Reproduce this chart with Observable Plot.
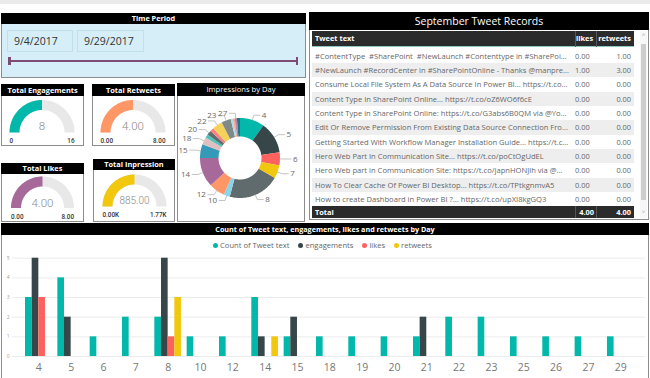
<!DOCTYPE html>
<html><head><meta charset="utf-8">
<script src="https://cdn.jsdelivr.net/npm/d3@7"></script>
<script src="https://cdn.jsdelivr.net/npm/@observablehq/plot@0.6"></script>
<style>
html,body{margin:0;padding:0;}
body{width:650px;height:378px;position:relative;overflow:hidden;background:#fff;font-family:"Open Sans",sans-serif;}
</style></head><body>
<script>
// ---------------- DATA ----------------
const periodStart = "9/4/2017";
const periodEnd = "9/29/2017";

const tweetTexts = [
  "#ContentType  #SharePoint  #NewLaunch #Contenttype in #SharePoi...",
  "#NewLaunch #RecordCenter in #SharePointOnline - Thanks @manpre...",
  "Consume Local File System As A Data Source In Power BI... https://t.co...",
  "Content Type In SharePoint Online... https://t.co/oZ6WO6f6cE",
  "Content Type in SharePoint Online: https://t.co/G3abs6B0QM via @Yo...",
  "Edit Or Remove Permission From Existing Data Source Connection Fro...",
  "Getting Started With Workflow Manager Installation Guide... https://t.c...",
  "Hero Web Part In Communication Site... https://t.co/poCtOgUdEL",
  "Hero Web part in Communication Site: https://t.co/japnHONJlh via @...",
  "How To Clear Cache Of Power BI Desktop... https://t.co/TPtkgnmvA5",
  "How to create Dashboard in Power BI ?... https://t.co/upXI8kgGQ3"
];
const tweetLikes = [0,1,0,0,0,0,0,0,0,0,0];
const tweetRetweets = [1,3,0,0,0,0,0,0,0,0,0];
const tableColumns = ["Tweet text","likes","retweets"];
const totalLabel = "Total";
const totalLikes = 4;
const totalRetweets = 4;

const gaugeTitles = ["Total Engagements","Total Retweets","Total Likes","Total Inpression"];
const gaugeValues = [8, 4, 4, 885];
const gaugeMax = [16, 8, 8, 1770];
const gaugeValueLabels = ["8","4.00","4.00","885.00"];
const gaugeMinLabels = ["0","0.00","0.00","0.00K"];
const gaugeMaxLabels = ["16","8.00","8.00","1.77K"];
const gaugeColors = ["#01B8AA","#FE9666","#A66999","#F2C80F"];

const days = ["4","5","6","7","8","10","12","14","15","18","19","20","21","22","23","25","26","27","29"];
const impressions = [88,113,47,47,184,22,57,106,49,27,12,16,14,36,34,7,7,8,11];
const impressionLabelDays = ["4","5","6","7","8","10","12","14","15","18","20","22","23","27"];
const dayPalette = ["#01B8AA","#374649","#FD625E","#F2C80F","#5F6B6D","#8AD4EB","#FE9666","#A66999","#3599B8","#DFBFBF","#4AC5BB","#5F6B6D","#FB8281","#F4D25A","#7F898A","#A4DDEE","#FDAB89","#B687AC","#28738A"];

const seriesNames = ["Count of Tweet text","engagements","likes","retweets"];
const seriesColors = ["#01B8AA","#374649","#FD625E","#F2C80F"];
const tweetCount  = [3,4,1,2,2,1,1,3,1,1,1,1,1,2,2,1,1,1,1];
const engagements = [5,2,0,0,5,0,0,1,2,0,0,0,2,0,0,0,0,0,0];
const likes       = [3,0,0,0,1,0,0,0,0,0,0,0,0,0,0,0,0,0,0];
const retweets    = [0,0,0,0,3,0,0,1,0,0,0,0,0,0,0,0,0,0,0];
const yTicks = [0,1,2,3,4,5];
const barTitle = "Count of Tweet text, engagements, likes and retweets by Day";
const donutTitle = "Impressions by Day";
const periodTitle = "Time Period";
const tableTitle = "September Tweet Records";

// ---------------- HELPERS ----------------
function box(left, top, width, height, css = {}, text) {
  const d = document.createElement("div");
  Object.assign(d.style, {position:"absolute", left:left+"px", top:top+"px", width:width+"px", height:height+"px", boxSizing:"border-box"}, css);
  if (text != null) d.textContent = text;
  document.body.appendChild(d);
  return d;
}
function header(left, top, width, height, text, fs, weight) {
  return box(left, top, width, height, {background:"#000", color:"#fff", fontSize:fs+"px", fontWeight:weight, textAlign:"center", lineHeight:height+"px", whiteSpace:"nowrap", overflow:"hidden"}, text);
}
function place(node, left, top) {
  node.style.position = "absolute";
  node.style.left = left + "px";
  node.style.top = top + "px";
  document.body.appendChild(node);
}
function arcPts(a0, a1, r0, r1, n) {
  const pts = [];
  for (let i = 0; i <= n; i++) { const a = a0 + (a1 - a0) * i / n; pts.push([r1 * Math.sin(a), r1 * Math.cos(a)]); }
  for (let i = n; i >= 0; i--) { const a = a0 + (a1 - a0) * i / n; pts.push([r0 * Math.sin(a), r0 * Math.cos(a)]); }
  return pts;
}
const baseStyle = {background:"transparent", overflow:"visible", fontFamily:"'Open Sans', sans-serif"};

// top strip
box(0,0,650,4,{background:"#ebebeb"});

// ---------------- TIME PERIOD ----------------
box(1,13,305,65,{border:"1px solid #8c8c8c", background:"#d5eef8"});
header(1,13,305,11,periodTitle,7.3,"bold");
box(7,30,66,22,{border:"1px solid #c2e0ec", fontSize:"10.5px", color:"#333", paddingLeft:"6px", lineHeight:"20px"}, periodStart);
box(77,30,67,22,{border:"1px solid #c2e0ec", fontSize:"10.5px", color:"#333", paddingLeft:"6px", lineHeight:"20px"}, periodEnd);
box(8,59.5,290,2,{background:"#7d4b74"});
box(8,56.5,2.5,8,{background:"#7d4b74"});
box(295.5,56.5,2.5,8,{background:"#7d4b74"});

// ---------------- TABLE ----------------
box(309,12,340,208,{border:"1px solid #8c8c8c", background:"#fff"});
header(309,12,340,18,tableTitle,10.5,"normal");
const colX = [312, 575, 596, 634];
box(312,31,322,16,{background:"#2b2b2b", borderBottom:"1px solid #8fc7c4"});
tableColumns.forEach((c, i) => {
  box(colX[i],31,colX[i+1]-colX[i],16,{color:"#fff", fontWeight:"bold", fontSize:"7.4px", lineHeight:"15px", paddingLeft: i===0?"3px":"0", paddingRight:i===0?"0":"3px", textAlign:i===0?"left":"right", borderLeft: i>0?"1px solid #555":"none", whiteSpace:"nowrap"}, c);
});
const rowH = 14.36, row0 = 48.5;
tweetTexts.forEach((t, i) => {
  const top = row0 + i*rowH;
  box(312, top, 322, rowH, {background: i%2 ? "#eeeeee" : "#ffffff"});
  box(312, top, 263, rowH, {color:"#666", fontSize:"7.6px", lineHeight:rowH+"px", paddingLeft:"3px", whiteSpace:"pre", overflow:"hidden"}, t);
  box(575, top, 21, rowH, {color:"#666", fontSize:"7.4px", lineHeight:rowH+"px", textAlign:"right", paddingRight:"7px", whiteSpace:"nowrap", overflow:"visible"}, tweetLikes[i].toFixed(2));
  box(596, top, 38, rowH, {color:"#666", fontSize:"7.4px", lineHeight:rowH+"px", textAlign:"right", paddingRight:"3px", whiteSpace:"nowrap"}, tweetRetweets[i].toFixed(2));
});
box(312,206,322,12,{background:"#2b2b2b"});
box(312,206,263,12,{color:"#fff", fontWeight:"bold", fontSize:"7.4px", lineHeight:"12px", paddingLeft:"3px"}, totalLabel);
box(575,206,21,12,{color:"#fff", fontWeight:"bold", fontSize:"7.4px", lineHeight:"12px", textAlign:"right", paddingRight:"2px", borderLeft:"1px solid #555", whiteSpace:"nowrap"}, totalLikes.toFixed(2));
box(596,206,38,12,{color:"#fff", fontWeight:"bold", fontSize:"7.4px", lineHeight:"12px", textAlign:"right", paddingRight:"3px", borderLeft:"1px solid #555"}, totalRetweets.toFixed(2));
// scrollbar
box(640,31,7,187,{background:"#f7f7f7"});
box(641,44,5,156,{background:"#cdcdcd"});
box(640,31,7,8,{color:"#aaa", fontSize:"6px", lineHeight:"8px", textAlign:"center"}, "˄");
box(640,208,7,8,{color:"#aaa", fontSize:"6px", lineHeight:"8px", textAlign:"center"}, "˅");

// ---------------- GAUGES ----------------
const gaugeLayout = [
  {left:1,  top:84,  w:83, h:62, hh:12, cx:41.5, cy:132,   R:32.5, r:22.5, vdy:6},
  {left:92, top:84,  w:83, h:62, hh:12, cx:132.5,cy:132,   R:32.5, r:22.5, vdy:6},
  {left:1,  top:163, w:83, h:59, hh:11, cx:42,   cy:207.5, R:31.5, r:21.5, vdy:5},
  {left:93, top:159, w:82, h:63, hh:11, cx:134,  cy:206,   R:32,   r:22,   vdy:6}
];
gaugeLayout.forEach((g, i) => {
  box(g.left, g.top, g.w, g.h, {border:"1px solid #8c8c8c", background:"#fff"});
  header(g.left, g.top, g.w, g.hh, gaugeTitles[i], 7.4, "bold");
  const W = g.w - 2, H = g.h - g.hh - 1;
  const ox = g.left + 1, oy = g.top + g.hh;
  const cx = g.cx - ox, cy = g.cy - oy, R = g.R;
  const rin = g.r / g.R;
  const f = gaugeValues[i] / gaugeMax[i];
  const arcs = [
    ...arcPts(-Math.PI/2, Math.PI/2, rin, 1, 80).map(([x,y]) => ({x, y, k:"track"})),
    ...arcPts(-Math.PI/2, -Math.PI/2 + Math.PI*f, rin, 1, 80).map(([x,y]) => ({x, y, k:"value"}))
  ];
  const texts = [{x:0, y:g.vdy/R, t:gaugeValueLabels[i]}];
  const plot = Plot.plot({
    width: W, height: H, margin: 0,
    x: {domain:[-cx/R, (W-cx)/R], range:[0, W], axis:null},
    y: {domain:[-(H-cy)/R, cy/R], range:[H, 0], axis:null},
    color: {domain:["track","value"], range:["#e8e8e8", gaugeColors[i]]},
    style: baseStyle,
    marks: [
      Plot.line(arcs, {x:"x", y:"y", z:"k", fill:"k", stroke:"none"}),
      Plot.text(texts, {x:"x", y:"y", text:"t", fontSize: i===3?10:11.5, fontFamily:"Roboto", fontWeight:300, fill:"#8a8a8a"}),
      Plot.text([gaugeMinLabels[i]], {x:-1, y:-8.5/R, text:d=>d, textAnchor:"start", fontSize:6.3, fontFamily:"Roboto", fontWeight:500, fill:"#333"}),
      Plot.text([gaugeMaxLabels[i]], {x:1, y:-8.5/R, text:d=>d, textAnchor:"end", fontSize:6.3, fontFamily:"Roboto", fontWeight:500, fill:"#333"})
    ]
  });
  place(plot, ox, oy);
});

// ---------------- DONUT ----------------
box(177,83,128,139,{border:"1px solid #8c8c8c", background:"#fff"});
header(177,83,128,13,donutTitle,7.6,"normal");
{
  const ox = 178, oy = 96, W = 126, H = 125;
  const R = 40, rin = 21.5/40;
  const cx = 239.5 - ox, cy = 157.5 - oy;
  const pie = d3.pie().sort(null).value(d => d)(impressions);
  const slicePts = [];
  pie.forEach((p, i) => {
    const n = Math.max(4, Math.ceil((p.endAngle - p.startAngle) * 40));
    arcPts(p.startAngle, p.endAngle, rin, 1, n).forEach(([x,y]) => slicePts.push({day: days[i], x, y}));
  });
  const leaders = [], labels = [];
  pie.forEach((p, i) => {
    if (!impressionLabelDays.includes(days[i])) return;
    const m = (p.startAngle + p.endAngle) / 2;
    const side = Math.sin(m) >= 0 ? 1 : -1;
    const r2 = 1 + 5/R;
    const p2 = [r2*Math.sin(m), r2*Math.cos(m)];
    const p3 = [p2[0] + side*6/R, p2[1]];
    leaders.push({day: days[i], x: Math.sin(m), y: Math.cos(m)});
    leaders.push({day: days[i], x: p2[0], y: p2[1]});
    leaders.push({day: days[i], x: p3[0], y: p3[1]});
    labels.push({day: days[i], x: p3[0] + side*2/R, y: p3[1], side});
  });
  const plot = Plot.plot({
    width: W, height: H, margin: 0,
    x: {domain:[-cx/R, (W-cx)/R], range:[0, W], axis:null},
    y: {domain:[-(H-cy)/R, cy/R], range:[H, 0], axis:null},
    color: {domain: days, range: dayPalette},
    style: baseStyle,
    marks: [
      Plot.line(slicePts, {x:"x", y:"y", z:"day", fill:"day", stroke:"none"}),
      Plot.line(leaders, {x:"x", y:"y", z:"day", stroke:"#b5b5b5", strokeWidth:0.8}),
      Plot.text(labels.filter(d => d.side > 0), {x:"x", y:"y", text:"day", textAnchor:"start", fontSize:8, fill:"#666"}),
      Plot.text(labels.filter(d => d.side < 0), {x:"x", y:"y", text:"day", textAnchor:"end", fontSize:8, fill:"#666"})
    ]
  });
  place(plot, ox, oy);
}

// ---------------- BAR CHART ----------------
box(1,223,648,160,{border:"1px solid #8c8c8c", background:"#fff"});
header(1,223,648,12,barTitle,7.2,"bold");
{
  const leg = document.createElement("div");
  Object.assign(leg.style, {position:"absolute", left:"6px", width:"642px", top:"240px", height:"10px", display:"flex", justifyContent:"center", alignItems:"center", fontSize:"7.6px", color:"#666", whiteSpace:"nowrap"});
  seriesNames.forEach((s, i) => {
    const it = document.createElement("span");
    it.style.display = "inline-flex"; it.style.alignItems = "center"; it.style.marginRight = "9px";
    const dot = document.createElement("span");
    Object.assign(dot.style, {display:"inline-block", width:"5px", height:"5px", borderRadius:"50%", background:seriesColors[i], marginRight:"2px"});
    it.appendChild(dot);
    it.appendChild(document.createTextNode(s));
    leg.appendChild(it);
  });
  document.body.appendChild(leg);

  const seriesValues = [tweetCount, engagements, likes, retweets];
  const barData = seriesNames.flatMap((s, si) => days.map((d, di) => ({day: d, series: s, value: seriesValues[si][di]})));
  const step = 32.33, pad = 0.794, bw = step * (1 - pad);
  const plot = Plot.plot({
    width: 646, height: 128,
    marginLeft: 10, marginRight: 3, marginTop: 7.7, marginBottom: 22,
    x: {type:"band", domain: days, range:[33, 33 + step*(days.length - pad)], paddingInner: pad, paddingOuter: 0, align: 0.5, round: false},
    y: {domain:[0, 5]},
    style: baseStyle,
    marks: [
      Plot.gridY(yTicks, {stroke:"#ececec", strokeOpacity:1}),
      Plot.axisY(yTicks, {tickSize:0, tickPadding:3, fontSize:5, color:"#a0a0a0", label:null}),
      Plot.axisX({tickSize:0, tickPadding:7, fontSize:10.5, color:"#777", label:null}),
      ...seriesNames.map((s, si) => Plot.barY(barData.filter(d => d.series === s && d.value > 0), {x:"day", y:"value", fill: seriesColors[si], dx: (si - 1.5) * bw}))
    ]
  });
  place(plot, 2, 250);
}
</script>
</body></html>
